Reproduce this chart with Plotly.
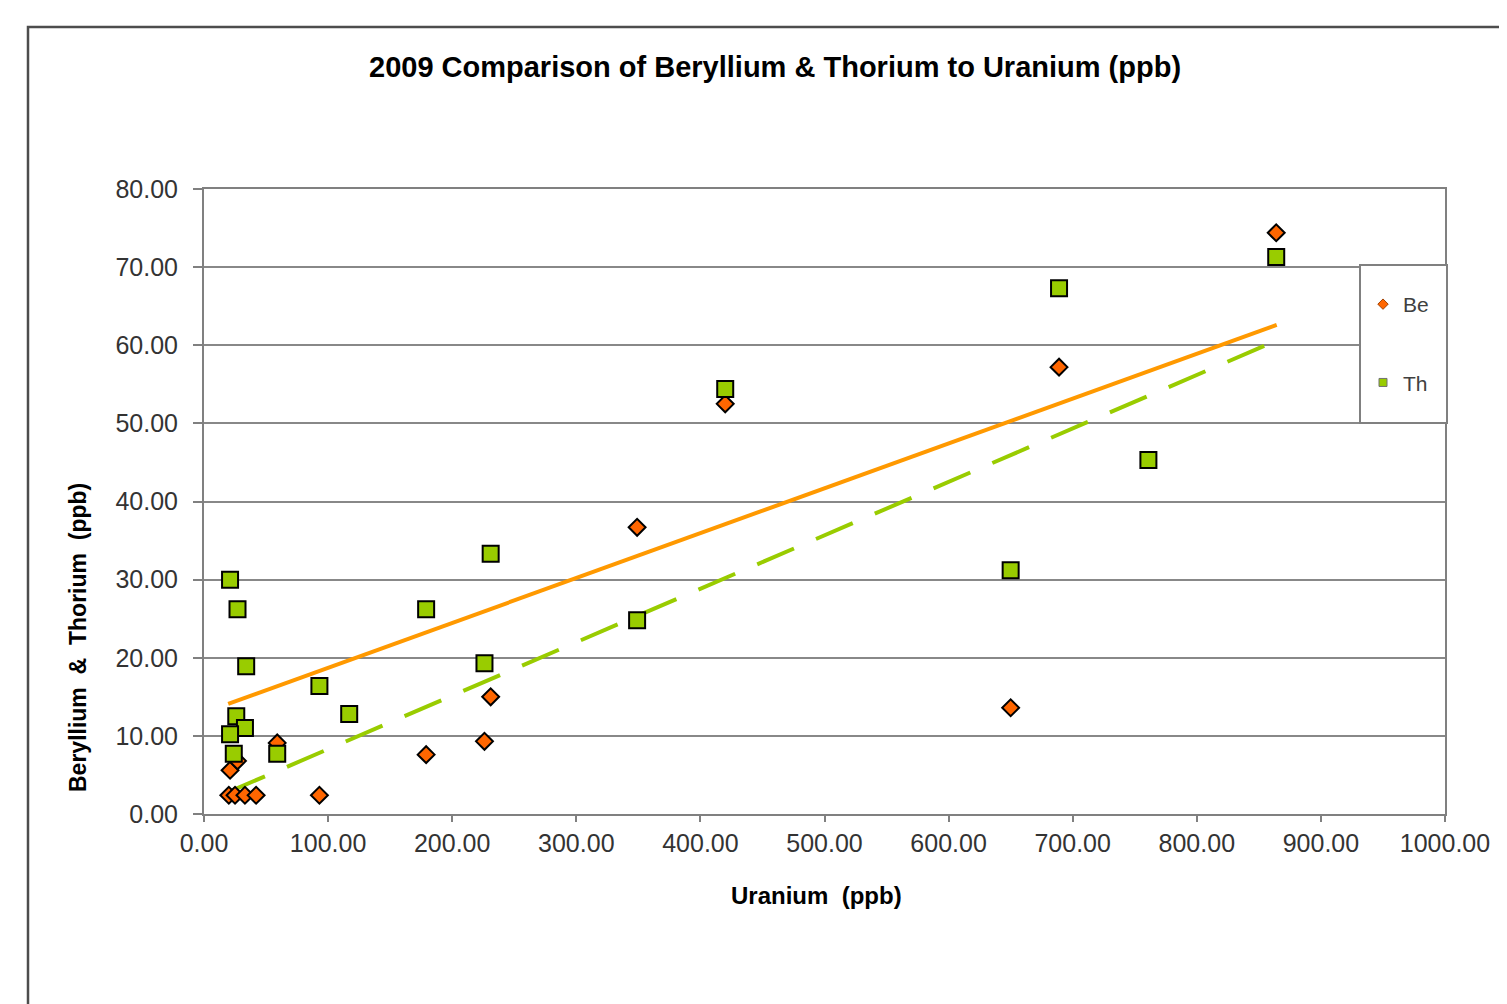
import plotly.graph_objects as go

# ---- data ----
uranium_be = [20, 25, 33, 42, 93, 21, 27, 59, 179, 226, 231, 349, 420, 650, 689, 864]
beryllium = [2.4, 2.4, 2.4, 2.4, 2.4, 5.6, 6.8, 9.1, 7.6, 9.3, 15.0, 36.7, 52.5, 13.6, 57.2, 74.4]
uranium_th = [21, 27, 34, 26, 33, 21, 24, 59, 93, 117, 179, 226, 231, 349, 420, 650, 689, 761, 864]
thorium = [30.0, 26.2, 18.9, 12.5, 11.0, 10.2, 7.7, 7.7, 16.4, 12.8, 26.2, 19.3, 33.3, 24.8, 54.4, 31.2, 67.3, 45.3, 71.3]
trend_x = [19.5, 864.4]
be_trend = [14.1, 62.6]
th_trend = [2.8, 60.6]
x_ticks = [0, 100, 200, 300, 400, 500, 600, 700, 800, 900, 1000]
y_ticks = [0, 10, 20, 30, 40, 50, 60, 70, 80]

FONT = "Liberation Sans, Arial, sans-serif"
BE_COLOR = "#FF6600"
TH_COLOR = "#99CC00"
BE_TREND = "#FF9900"
GRID = "#888888"

fig = go.Figure()

fig.add_trace(go.Scatter(x=trend_x, y=be_trend, mode="lines",
                         line=dict(color=BE_TREND, width=4), showlegend=False, hoverinfo="skip"))
fig.add_trace(go.Scatter(x=trend_x, y=th_trend, mode="lines",
                         line=dict(color=TH_COLOR, width=4, dash="40px,24px"), showlegend=False, hoverinfo="skip"))

fig.add_trace(go.Scatter(x=uranium_be, y=beryllium, mode="markers", name="Be", showlegend=False,
                         marker=dict(symbol="diamond", size=13, color=BE_COLOR,
                                     line=dict(color="black", width=2))))
fig.add_trace(go.Scatter(x=uranium_th, y=thorium, mode="markers", name="Th", showlegend=False,
                         marker=dict(symbol="square", size=16, color=TH_COLOR,
                                     line=dict(color="black", width=2))))

# legend entries (no data points)
fig.add_trace(go.Scatter(x=[None], y=[None], mode="markers", name="Be", legendgroup="be",
                         marker=dict(symbol="diamond", size=8, color=BE_COLOR,
                                     line=dict(color="#a04000", width=1))))
fig.add_trace(go.Scatter(x=[None], y=[None], mode="markers", name="Th", legendgroup="th",
                         marker=dict(symbol="square", size=8, color=TH_COLOR,
                                     line=dict(color="#707070", width=1))))

OFF = 8  # page body margin
L, R, T, B = 204 - OFF, 1445 - OFF, 189 - OFF, 814 - OFF
W, H = 1499, 996
pw, ph = R - L, B - T

def px(x):
    return (x - OFF - L) / pw

def py(y):
    return (B - (y - OFF)) / ph

axis_common = dict(showline=True, mirror=True, linecolor="#808080", linewidth=2,
                   ticks="outside", tickcolor="#808080", tickwidth=2,
                   tickfont=dict(family=FONT, size=25, color="#333333"),
                   tickformat=".2f", zeroline=False)

fig.update_xaxes(range=[0, 1000], tickvals=x_ticks, showgrid=False, ticklen=6,
                 ticklabelstandoff=0, **axis_common)
fig.update_yaxes(range=[0, 80], tickvals=y_ticks, showgrid=True, gridcolor=GRID, gridwidth=2,
                 ticklen=9, ticklabelstandoff=10, **axis_common)

fig.update_layout(
    width=W, height=H,
    margin=dict(l=L, r=W - R, t=T, b=H - B),
    paper_bgcolor="white", plot_bgcolor="white",
    showlegend=True,
    legend=dict(x=px(1363), y=py(284), xanchor="left", yanchor="top",
                bgcolor="rgba(0,0,0,0)", borderwidth=0,
                font=dict(family=FONT, size=21, color="#404040"),
                tracegroupgap=48, itemsizing="trace", itemwidth=30),
    shapes=[
        dict(type="rect", xref="paper", yref="paper",
             x0=px(28), x1=px(1560), y0=py(1040), y1=py(27),
             line=dict(color="#4d4d4d", width=2.5), fillcolor="rgba(0,0,0,0)", layer="below"),
        dict(type="rect", xref="paper", yref="paper",
             x0=px(1360), x1=px(1447), y0=py(423), y1=py(265),
             line=dict(color="#808080", width=2), fillcolor="white", layer="above"),
    ],
    annotations=[
        dict(text="<b>2009 Comparison of Beryllium & Thorium to Uranium (ppb)</b>",
             xref="paper", yref="paper", x=px(775), y=py(67), xanchor="center", yanchor="middle",
             showarrow=False, font=dict(family=FONT, size=29, color="black")),
        dict(text="<b>Uranium  (ppb)</b>",
             xref="paper", yref="paper", x=px(816), y=py(895), xanchor="center", yanchor="middle",
             showarrow=False, font=dict(family=FONT, size=24, color="black")),
        dict(text="<b>Beryllium  &  Thorium  (ppb)</b>", textangle=-90,
             xref="paper", yref="paper", x=px(78), y=py(638), xanchor="center", yanchor="middle",
             showarrow=False, font=dict(family=FONT, size=23, color="black")),
    ],
)

fig.write_html("out.html")
